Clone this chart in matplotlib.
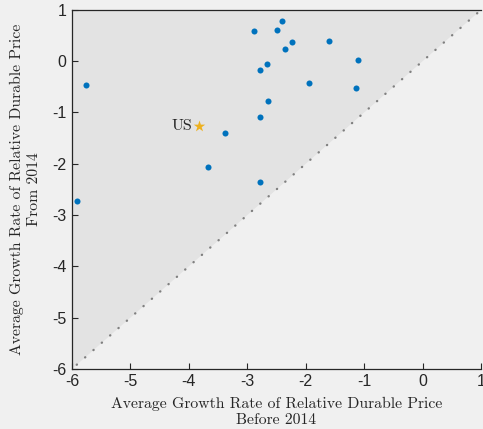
import numpy as np
import matplotlib.pyplot as plt

plt.rcParams['axes.unicode_minus'] = False

# growth rates before 2014 (x) and from 2014 (y)
before_2014 = [-5.76, -5.91, -2.88, -2.50, -2.40, -2.23, -2.36, -1.60, -1.10,
               -2.67, -2.78, -1.95, -1.14, -2.64, -2.79, -3.39, -3.68, -2.78]
from_2014 = [-0.47, -2.73, 0.59, 0.60, 0.79, 0.38, 0.23, 0.39, 0.03,
             -0.05, -0.18, -0.42, -0.53, -0.77, -1.08, -1.40, -2.07, -2.35]
us_before = -3.83
us_from = -1.27

lims = [-6, 1]
ticks = [-6, -5, -4, -3, -2, -1, 0, 1]

fig = plt.figure(figsize=(4.83, 4.29), dpi=100)
fig.patch.set_facecolor('#f0f0f0')
ax = fig.add_axes([0.149, 0.140, 0.847, 0.837])
ax.set_facecolor('#f0f0f0')

# region above the 45 degree line
ax.fill([lims[0], lims[1], lims[0]], [lims[0], lims[1], lims[1]],
        color='#e3e3e3', lw=0, zorder=0)
ax.plot(lims, lims, linestyle=(2, (0.1, 4.6)), color='#808080', lw=1.7,
        dash_capstyle='round', zorder=1)

ax.scatter(before_2014, from_2014, s=19, color='#0072bd', zorder=3, linewidths=0)
ax.scatter([us_before], [us_from], marker='*', s=75, color='#edb120', zorder=3,
           linewidths=0)
ax.text(us_before - 0.12, us_from, 'US', family='cmr10', fontsize=11.5,
        ha='right', va='center', color='#262626')

ax.set_xlim(lims)
ax.set_ylim(lims)
ax.set_xticks(ticks)
ax.set_yticks(ticks)
ax.tick_params(direction='in', length=4, width=0.8, colors='#262626',
               labelsize=11.5, pad=4)
for lab in ax.get_xticklabels() + ax.get_yticklabels():
    lab.set_family('Liberation Sans')
for s in ['left', 'bottom', 'top']:
    ax.spines[s].set_color('#262626')
    ax.spines[s].set_linewidth(0.9)
ax.spines['right'].set_visible(False)

ax.set_xlabel('Average Growth Rate of Relative Durable Price\nBefore 2014',
              family='cmr10', fontsize=11.3, color='#262626', labelpad=5,
              linespacing=1.2)
ax.set_ylabel('Average Growth Rate of Relative Durable Price\nFrom 2014',
              family='cmr10', fontsize=11.3, color='#262626', labelpad=8,
              linespacing=1.3)

fig.savefig('out.png', dpi=100, facecolor=fig.get_facecolor())
